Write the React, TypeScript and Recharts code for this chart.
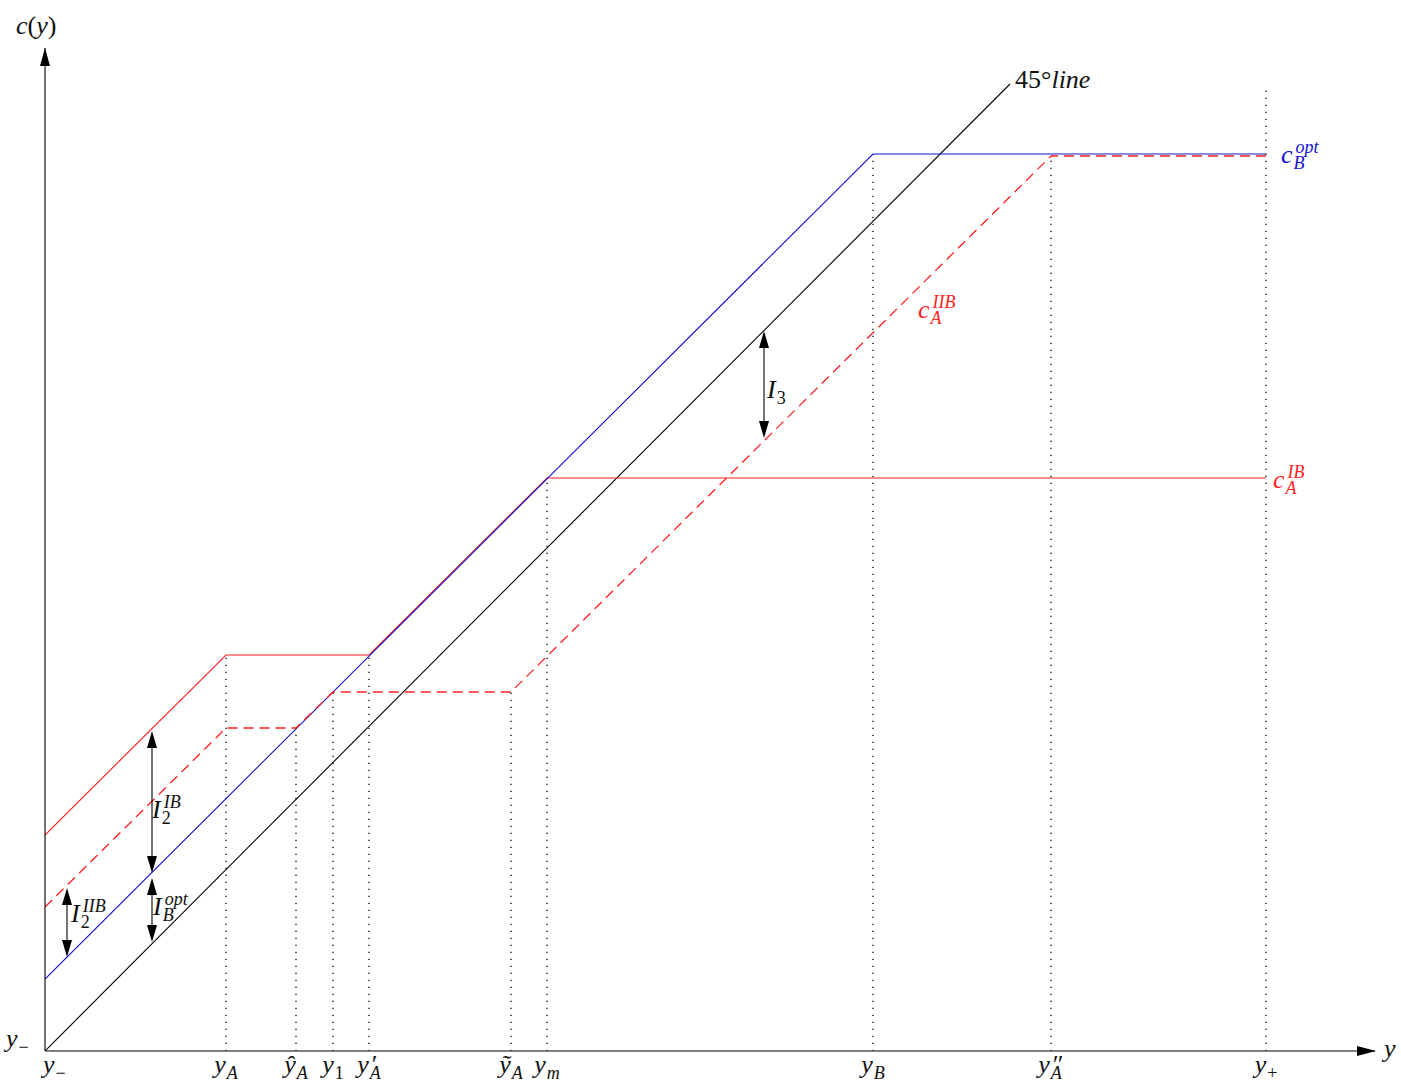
import { LineChart, Line, XAxis, YAxis, ReferenceLine, ReferenceDot } from 'recharts';

// curves, in the picture's own units (45° line has slope 1)
const line45 = [
    { x: 0, y: 0 },
    { x: 965, y: 967 },
];
const cBopt = [
    { x: 0, y: 72 },
    { x: 828, y: 897 },
    { x: 1221, y: 897 },
];
const cAIB = [
    { x: 0, y: 216 },
    { x: 181, y: 396 },
    { x: 324, y: 396 },
    { x: 502, y: 573 },
    { x: 1221, y: 573 },
];
const cAIIB = [
    { x: 0, y: 144 },
    { x: 181, y: 323 },
    { x: 251, y: 323 },
    { x: 288, y: 359 },
    { x: 466, y: 359 },
    { x: 1006, y: 895 },
    { x: 1221, y: 895 },
];

// x-axis marks and their labels
const tickValues = [0, 181, 251, 288, 324, 466, 502, 828, 1006, 1221];
const tickLabels = [
    { base: 'y', sub: '−' },
    { base: 'y', sub: 'A' },
    { base: 'ŷ', sub: 'A' },
    { base: 'y', sub: '1' },
    { base: 'y', sup: '′', sub: 'A' },
    { base: 'ỹ', sub: 'A' },
    { base: 'y', sub: 'm' },
    { base: 'y', sub: 'B' },
    { base: 'y', sup: '″', sub: 'A' },
    { base: 'y', sub: '+' },
];
// height where each dotted guide stops
const guideTops = [0, 396, 323, 359, 396, 359, 573, 897, 895, 966];

// double arrows: x, from, to
const arrowX = [22, 107, 107, 719];
const arrowFrom = [94, 178, 109, 613];
const arrowTo = [163, 320, 173, 720];

const FONT = '"Liberation Serif", "DejaVu Serif", serif';
const FS = 26;
const SS = 18;
const RED = '#ff1f1f';
const BLUE = '#1212d4';

const W: Record<string, number> = {
    A: 0.61, B: 0.61, m: 0.72, I: 0.33, '1': 0.5, '2': 0.5, '3': 0.5,
    '+': 0.56, '−': 0.56, '′': 0.28, '″': 0.42,
};
const textWidth = (s: string, fs: number) =>
    s.split('').reduce((acc, ch) => acc + (W[ch] ?? 0.5) * fs, 0);

const upright = (s: string) => /^[0-9+−′″]+$/.test(s);
const isPrime = (s: string) => /^[′″]+$/.test(s);

function MathText({
    x,
    y,
    base,
    sub,
    sup,
    fill = '#111',
    anchor = 'start',
}: {
    x: number;
    y: number;
    base: React.ReactNode;
    sub?: string;
    sup?: string;
    fill?: string;
    anchor?: 'start' | 'middle' | 'end';
}) {
    const subW = sub ? textWidth(sub, SS) : 0;
    const prime = !!sup && isPrime(sup);
    const supDy = prime
        ? sub
            ? -FS * 0.24
            : 0
        : sub
        ? -FS * 0.64
        : -FS * 0.38;
    return (
        <text
            x={x}
            y={y}
            fill={fill}
            fontFamily={FONT}
            fontSize={FS}
            fontStyle='italic'
            textAnchor={anchor}
        >
            <tspan>{base}</tspan>
            {sub && (
                <tspan
                    fontSize={SS}
                    dx={1}
                    dy={FS * 0.24}
                    fontStyle={upright(sub) ? 'normal' : 'italic'}
                >
                    {sub}
                </tspan>
            )}
            {sup && (
                <tspan
                    fontSize={prime ? FS : SS}
                    dx={sub ? -subW + 2 : 1}
                    dy={supDy}
                    fontStyle={upright(sup) ? 'normal' : 'italic'}
                >
                    {sup}
                </tspan>
            )}
        </text>
    );
}

const XTick = (props: any) => {
    const { x, y, index } = props;
    const lab = tickLabels[index];
    if (!lab) return null;
    return (
        <MathText
            x={index === 0 ? x - 2 : x}
            y={y + 22}
            base={lab.base}
            sub={lab.sub}
            sup={lab.sup}
            anchor={index === 0 ? 'start' : 'middle'}
        />
    );
};

const YTick = (props: any) => {
    const { x, y } = props;
    return <MathText x={x - 37} y={y - 4} base='y' sub='−' />;
};

const ArrowShape = (props: any) => {
    const { x1, y1, y2 } = props;
    const top = Math.min(y1, y2);
    const bot = Math.max(y1, y2);
    const L = 17;
    const H = 5;
    return (
        <g>
            <line x1={x1} y1={top + L - 2} x2={x1} y2={bot - L + 2} stroke='#000' strokeWidth={1.1} />
            <polygon points={`${x1},${top} ${x1 - H},${top + L} ${x1 + H},${top + L}`} fill='#000' />
            <polygon points={`${x1},${bot} ${x1 - H},${bot - L} ${x1 + H},${bot - L}`} fill='#000' />
        </g>
    );
};

const labels: {
    x: number;
    y: number;
    base: React.ReactNode;
    sub?: string;
    sup?: string;
    fill?: string;
}[] = [
    {
        x: -29,
        y: 1017,
        base: (
            <>
                c<tspan fontStyle='normal'>(</tspan>y<tspan fontStyle='normal'>)</tspan>
            </>
        ),
    },
    {
        x: 970,
        y: 963,
        base: (
            <>
                <tspan fontStyle='normal'>45°</tspan>line
            </>
        ),
    },
    { x: 1236, y: 888, base: 'c', sup: 'opt', sub: 'B', fill: BLUE },
    { x: 873, y: 733, base: 'c', sup: 'IIB', sub: 'A', fill: RED },
    { x: 1228, y: 563, base: 'c', sup: 'IB', sub: 'A', fill: RED },
    { x: 26, y: 129, base: 'I', sup: 'IIB', sub: '2' },
    { x: 107, y: 233, base: 'I', sup: 'IB', sub: '2' },
    { x: 108, y: 136, base: 'I', sup: 'opt', sub: 'B' },
    { x: 722, y: 653, base: 'I', sub: '3' },
    { x: 1339, y: -6, base: 'y' },
];

export default function App() {
    return (
        <div style={{ position: 'absolute', left: 0, top: 0, background: '#fff' }}>
            <LineChart
                width={1401}
                height={1086}
                margin={{ top: 48, right: 26, bottom: 0, left: 0 }}
            >
                <XAxis
                    type='number'
                    dataKey='x'
                    domain={[0, 1330]}
                    allowDataOverflow
                    ticks={tickValues}
                    interval={0}
                    tick={<XTick />}
                    tickLine={false}
                    tickSize={0}
                    tickMargin={0}
                    height={35}
                    axisLine={{ stroke: '#555', strokeWidth: 1.6 }}
                />
                <YAxis
                    type='number'
                    dataKey='y'
                    domain={[0, 1003]}
                    allowDataOverflow
                    ticks={[0]}
                    tick={<YTick />}
                    tickLine={false}
                    tickSize={0}
                    width={45}
                    axisLine={{ stroke: '#000', strokeWidth: 1.1 }}
                />

                {tickValues.slice(1).map((v, i) => (
                    <ReferenceLine
                        key={v}
                        segment={[
                            { x: v, y: 0 },
                            { x: v, y: guideTops[i + 1] },
                        ]}
                        stroke='#000'
                        strokeWidth={1.3}
                        strokeDasharray='1.3 5.7'
                        ifOverflow='visible'
                    />
                ))}

                <Line data={line45} dataKey='y' type='linear' stroke='#000' strokeWidth={1.1} dot={false} isAnimationActive={false} />
                <Line data={cAIB} dataKey='y' type='linear' stroke={RED} strokeWidth={1.1} dot={false} isAnimationActive={false} />
                <Line data={cBopt} dataKey='y' type='linear' stroke={BLUE} strokeWidth={1.1} dot={false} isAnimationActive={false} />
                <Line data={cAIIB} dataKey='y' type='linear' stroke={RED} strokeWidth={1.3} strokeDasharray='10 6' dot={false} isAnimationActive={false} />

                {arrowX.map((x, i) => (
                    <ReferenceLine
                        key={'a' + i}
                        segment={[
                            { x, y: arrowFrom[i] },
                            { x, y: arrowTo[i] },
                        ]}
                        shape={ArrowShape}
                        ifOverflow='visible'
                    />
                ))}

                <ReferenceDot
                    x={1330}
                    y={0}
                    ifOverflow='visible'
                    shape={(p: any) => (
                        <polygon points={`${p.cx + 1},${p.cy} ${p.cx - 18},${p.cy - 5} ${p.cx - 18},${p.cy + 5}`} fill='#000' />
                    )}
                />
                <ReferenceDot
                    x={0}
                    y={1003}
                    ifOverflow='visible'
                    shape={(p: any) => (
                        <polygon points={`${p.cx},${p.cy} ${p.cx - 5},${p.cy + 18} ${p.cx + 5},${p.cy + 18}`} fill='#000' />
                    )}
                />

                {labels.map((l, i) => (
                    <ReferenceDot
                        key={'l' + i}
                        x={l.x}
                        y={l.y}
                        ifOverflow='visible'
                        shape={(p: any) => (
                            <MathText x={p.cx} y={p.cy} base={l.base} sub={l.sub} sup={l.sup} fill={l.fill} />
                        )}
                    />
                ))}
            </LineChart>
        </div>
    );
}
